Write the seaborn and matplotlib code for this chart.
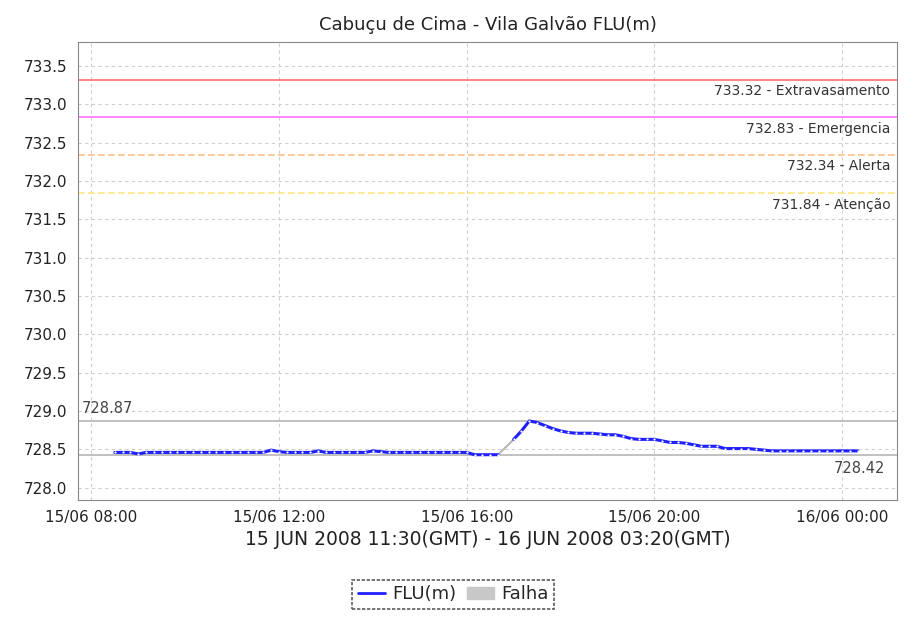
import numpy as np
import pandas as pd
import matplotlib
matplotlib.use('Agg')
import matplotlib.pyplot as plt
import matplotlib.dates as mdates
from matplotlib.lines import Line2D
from matplotlib.patches import Patch
import seaborn as sns

# Water level readings, every 10 minutes (local time), 15/06 08:30 -> 16/06 00:20
start_time = '2008-06-15 08:30'
flu_values = [
    728.46, 728.46, 728.46, 728.44, 728.46, 728.46,            # 08:30 - 09:20
    728.46, 728.46, 728.46, 728.46, 728.46, 728.46,            # 09:30 - 10:20
    728.46, 728.46, 728.46, 728.46, 728.46, 728.46,            # 10:30 - 11:20
    728.46, 728.46, 728.49, 728.47, 728.46, 728.46,            # 11:30 - 12:20
    728.46, 728.46, 728.48, 728.46, 728.46, 728.46,            # 12:30 - 13:20
    728.46, 728.46, 728.46, 728.48, 728.47, 728.46,            # 13:30 - 14:20
    728.46, 728.46, 728.46, 728.46, 728.46, 728.46,            # 14:30 - 15:20
    728.46, 728.46, 728.46, 728.46, 728.43, 728.43,            # 15:30 - 16:20
    728.43, 728.43, np.nan, 728.63, 728.74, 728.87,            # 16:30 - 17:20
    728.85, 728.81, 728.77, 728.74, 728.72, 728.71,            # 17:30 - 18:20
    728.71, 728.71, 728.70, 728.69, 728.69, 728.67,            # 18:30 - 19:20
    728.64, 728.63, 728.63, 728.63, 728.61, 728.59,            # 19:30 - 20:20
    728.59, 728.58, 728.56, 728.54, 728.54, 728.54,            # 20:30 - 21:20
    728.51, 728.51, 728.51, 728.51, 728.50, 728.49,            # 21:30 - 22:20
    728.48, 728.48, 728.48, 728.48, 728.48, 728.48,            # 22:30 - 23:20
    728.48, 728.48, 728.48, 728.48, 728.48, 728.48,            # 23:30 - 00:20
]
# Missing reading (Falha) bridged in grey
falha_times = ['2008-06-15 16:40', '2008-06-15 17:00']
falha_values = [728.43, 728.63]

# Alarm levels
level_values = [733.32, 732.83, 732.34, 731.84]
level_names = ['Extravasamento', 'Emergencia', 'Alerta', 'Atenção']
level_colors = ['#ff6f6f', '#ff70ff', '#ffc08a', '#ffe680']
level_styles = ['-', '-', (0, (4, 2)), (0, (4, 2))]

max_value = 728.87
min_value = 728.42

times = pd.date_range(start_time, periods=len(flu_values), freq='10min')
df = pd.DataFrame({'time': times, 'FLU(m)': flu_values})
# split into continuous pieces around the gap
df['piece'] = df['FLU(m)'].isna().cumsum()
df = df.dropna()
falha_df = pd.DataFrame({'time': pd.to_datetime(falha_times), 'value': falha_values})

sns.set_style('whitegrid', {'grid.linestyle': (0, (3, 3)), 'grid.color': '#cfcfcf',
                            'axes.edgecolor': '#888888'})
plt.rcParams['font.family'] = ['DejaVu Sans']

fig = plt.figure(figsize=(9.06, 6.19), dpi=100)
ax = fig.add_axes([0.0861, 0.1923, 0.9039, 0.7397])

# threshold lines and their labels
xmin = pd.Timestamp('2008-06-15 07:43')
xmax = pd.Timestamp('2008-06-16 01:10')
for val, name, col, ls in zip(level_values, level_names, level_colors, level_styles):
    ax.axhline(val, color=col, lw=1.2, linestyle=ls, zorder=2)
    ax.text(0.992, val - 0.06, f'{val:.2f} - {name}', transform=ax.get_yaxis_transform(),
            ha='right', va='top', fontsize=10, color='#333333')

# min / max markers
ax.axhline(max_value, color='#b5b5b5', lw=1.2, zorder=2)
ax.axhline(min_value, color='#b5b5b5', lw=1.2, zorder=2)
ax.text(0.005, max_value + 0.06, f'{max_value:.2f}', transform=ax.get_yaxis_transform(),
        ha='left', va='bottom', fontsize=10.5, color='#444444')
ax.text(0.985, min_value - 0.07, f'{min_value:.2f}', transform=ax.get_yaxis_transform(),
        ha='right', va='top', fontsize=10.5, color='#444444')

sns.lineplot(data=falha_df, x='time', y='value', ax=ax, color='#b8b8b8', lw=1.5, zorder=3)
sns.lineplot(data=df, x='time', y='FLU(m)', units='piece', estimator=None, ax=ax,
             color='#1f1fff', lw=2.2, zorder=4,
             marker='o', markersize=1.6, markerfacecolor='white', markeredgewidth=0)

ax.set_xlim(xmin, xmax)
ax.set_ylim(727.84, 733.81)
ax.set_yticks(np.arange(728.0, 733.51, 0.5))
ax.yaxis.set_major_formatter(matplotlib.ticker.FormatStrFormatter('%.1f'))
ax.xaxis.set_major_locator(mdates.HourLocator(byhour=[0, 4, 8, 12, 16, 20]))
ax.xaxis.set_major_formatter(mdates.DateFormatter('%d/%m %H:%M'))
ax.tick_params(axis='both', length=4, color='#888888', labelsize=11, labelcolor='#222222')
ax.tick_params(axis='x', pad=3)

ax.set_title('Cabuçu de Cima - Vila Galvão FLU(m)', fontsize=13, color='#222222', pad=9)
ax.set_xlabel('15 JUN 2008 11:30(GMT) - 16 JUN 2008 03:20(GMT)', fontsize=13.5,
              color='#222222', labelpad=4)
ax.set_ylabel('')

handles = [Line2D([], [], color='#1f1fff', lw=2),
           Patch(facecolor='#c8c8c8', edgecolor='#c8c8c8')]
leg = fig.legend(handles, ['FLU(m)', 'Falha'], loc='center', bbox_to_anchor=(0.5, 0.04),
                 ncol=2, fontsize=13, frameon=True, fancybox=False, handlelength=1.5,
                 handletextpad=0.4, columnspacing=0.6, borderpad=0.3, handleheight=0.6)
leg.get_frame().set_edgecolor('#333333')
leg.get_frame().set_linestyle((0, (2, 1)))
leg.get_frame().set_linewidth(1.2)

fig.savefig('out.png', dpi=100)
